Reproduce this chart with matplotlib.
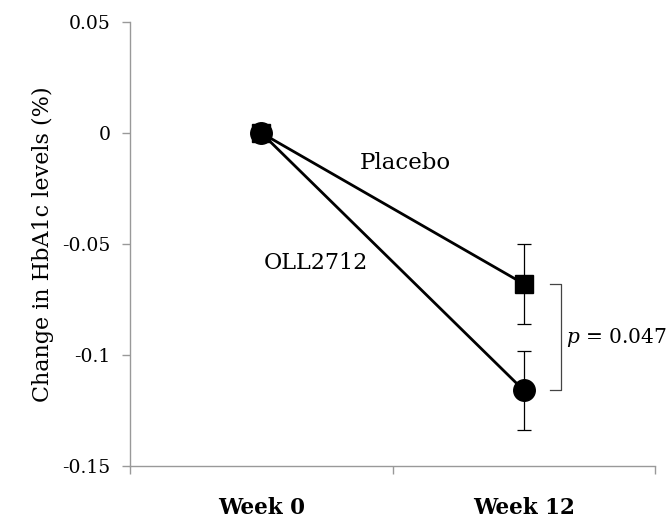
import numpy as np
import matplotlib.pyplot as plt

# Données
semaines = ['Week 0', 'Week 12']
x_pos = [0.5, 1.5]
placebo = [0.0, -0.068]
placebo_err = [0.0, 0.018]
oll2712 = [0.0, -0.116]
oll2712_err = [0.0, 0.018]
y_ticks = [0.05, 0, -0.05, -0.1, -0.15]
y_labels = ['0.05', '0', '-0.05', '-0.1', '-0.15']

plt.rcParams['font.family'] = ['DejaVu Serif']
plt.rcParams['mathtext.fontset'] = 'dejavuserif'

fig = plt.figure(figsize=(6.72, 5.22), dpi=100)
ax = fig.add_axes([0.1935, 0.1073, 0.7815, 0.8507])

# Barres d'erreur (seulement semaine 12)
ax.errorbar(x_pos[1:], placebo[1:], yerr=placebo_err[1:], fmt='none',
            ecolor='black', elinewidth=0.9, capsize=5, capthick=0.9, zorder=2)
ax.errorbar(x_pos[1:], oll2712[1:], yerr=oll2712_err[1:], fmt='none',
            ecolor='black', elinewidth=0.9, capsize=5, capthick=0.9, zorder=2)

# Courbes
ax.plot(x_pos, placebo, color='black', linewidth=2, marker='s',
        markersize=12.5, zorder=3)
ax.plot(x_pos, oll2712, color='black', linewidth=2, marker='o',
        markersize=15.5, zorder=4)

# Étiquettes des séries
ax.text(1.048, -0.0135, 'Placebo', fontsize=16.5, ha='center', va='center')
ax.text(0.709, -0.0586, 'OLL2712', fontsize=16, ha='center', va='center')

# Crochet de significativité
bx = 1.64
ax.plot([1.60, bx, bx, 1.60], [placebo[1], placebo[1], oll2712[1], oll2712[1]],
        color='#444444', linewidth=0.9)
ax.text(1.662, (placebo[1] + oll2712[1]) / 2, '$\\it{p}$ = 0.047', fontsize=14.5,
        ha='left', va='center')

# Axes
ax.set_xlim(0, 2)
ax.set_ylim(-0.15, 0.05)
ax.set_yticks(y_ticks)
ax.set_yticklabels(y_labels, fontsize=13.5)
ax.set_xticks([0, 1, 2])
ax.set_xticklabels([])
ax.set_xticks(x_pos, minor=True)
ax.set_xticklabels(semaines, minor=True, fontsize=15.5, fontweight='bold')
ax.tick_params(axis='x', which='minor', length=0, pad=22)
ax.tick_params(axis='both', which='major', color='#999999', length=6, width=1)
ax.tick_params(axis='y', pad=8)
ax.set_ylabel('Change in HbA1c levels (%)', fontsize=16, labelpad=6)

for s in ['top', 'right']:
    ax.spines[s].set_visible(False)
for s in ['left', 'bottom']:
    ax.spines[s].set_color('#999999')
    ax.spines[s].set_linewidth(1)

fig.savefig('out.png', dpi=100)
